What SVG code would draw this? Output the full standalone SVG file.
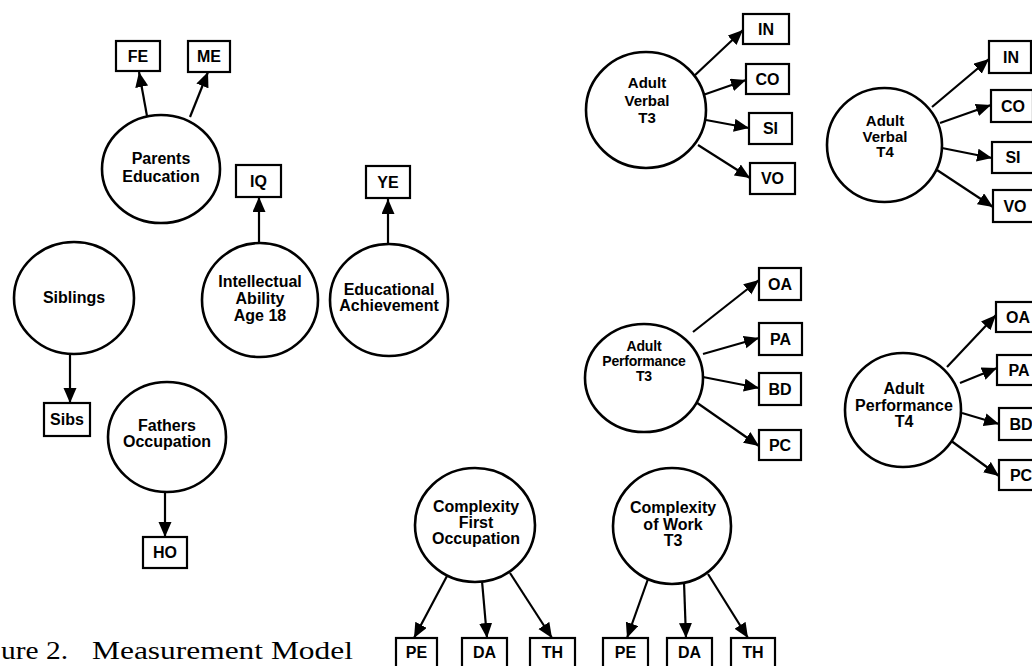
<svg xmlns="http://www.w3.org/2000/svg" width="1032" height="666" viewBox="0 0 1032 666">
<style>
.c ellipse{fill:#fff;stroke:#000;stroke-width:2.6}
.b rect{fill:#fff;stroke:#000;stroke-width:2.2}
text{font-family:"Liberation Sans",Arial,sans-serif;font-weight:bold;text-anchor:middle;font-size:16px;fill:#000}
.s15 text{font-size:15px}
.tight text{font-size:14px;letter-spacing:-0.2px}
#connectors line{stroke:#000;stroke-width:2.2;marker-end:url(#ah)}
.cap{font-family:"Liberation Serif","Times New Roman",serif;font-weight:normal;text-anchor:start;font-size:25px}
</style>
<defs>
<marker id="ah" markerUnits="userSpaceOnUse" markerWidth="16" markerHeight="14" refX="15" refY="6.5" orient="auto">
<path d="M0,0 L15,6.5 L0,13 z" fill="#000"/>
</marker>
</defs>
<rect width="1032" height="666" fill="#fff"/>

<g id="connectors">
<line x1="147" y1="116" x2="139" y2="72"/>
<line x1="190" y1="117" x2="208" y2="72"/>
<line x1="259" y1="244" x2="259" y2="197"/>
<line x1="388" y1="244" x2="388" y2="199"/>
<line x1="70" y1="354" x2="70" y2="403"/>
<line x1="165" y1="492" x2="165" y2="537"/>
<line x1="693" y1="77" x2="743" y2="30"/>
<line x1="703" y1="95" x2="746" y2="80"/>
<line x1="706" y1="120" x2="749" y2="128"/>
<line x1="698" y1="145" x2="750" y2="178"/>
<line x1="932" y1="107" x2="989" y2="59"/>
<line x1="940" y1="123" x2="991" y2="105"/>
<line x1="942" y1="148" x2="992" y2="158"/>
<line x1="937" y1="170" x2="993" y2="207"/>
<line x1="693" y1="332" x2="759" y2="280"/>
<line x1="703" y1="354" x2="759" y2="338"/>
<line x1="703" y1="377" x2="759" y2="388"/>
<line x1="693" y1="400" x2="759" y2="446"/>
<line x1="947" y1="367" x2="996" y2="315"/>
<line x1="960" y1="383" x2="997" y2="368"/>
<line x1="962" y1="413" x2="999" y2="424"/>
<line x1="950" y1="440" x2="999" y2="476"/>
<line x1="447" y1="576" x2="414" y2="638"/>
<line x1="482" y1="581" x2="487" y2="638"/>
<line x1="510" y1="573" x2="552" y2="638"/>
<line x1="648" y1="579" x2="627" y2="638"/>
<line x1="684" y1="582" x2="686" y2="638"/>
<line x1="708" y1="574" x2="748" y2="638"/>
</g>

<g id="parents-education" class="c"><ellipse cx="161" cy="169" rx="59" ry="54"/><text x="161" y="164">Parents</text><text x="161" y="182">Education</text></g>
<g id="siblings" class="c"><ellipse cx="74" cy="298" rx="60" ry="56"/><text x="74" y="303">Siblings</text></g>
<g id="intellectual-ability" class="c"><ellipse cx="260" cy="300" rx="58" ry="57"/><text x="260" y="287">Intellectual</text><text x="260" y="304">Ability</text><text x="260" y="321">Age 18</text></g>
<g id="educational-achievement" class="c"><ellipse cx="389" cy="300" rx="59" ry="56"/><text x="389" y="295">Educational</text><text x="389" y="311">Achievement</text></g>
<g id="fathers-occupation" class="c"><ellipse cx="167" cy="437" rx="59" ry="55"/><text x="167" y="431">Fathers</text><text x="167" y="447">Occupation</text></g>
<g id="adult-verbal-t3" class="c s15"><ellipse cx="646" cy="110" rx="60" ry="58"/><text x="647" y="88">Adult</text><text x="647" y="106">Verbal</text><text x="647" y="123">T3</text></g>
<g id="adult-verbal-t4" class="c s15"><ellipse cx="884.5" cy="145" rx="57.5" ry="57"/><text x="885" y="126">Adult</text><text x="885" y="142">Verbal</text><text x="885" y="157">T4</text></g>
<g id="adult-performance-t3" class="c tight"><ellipse cx="644" cy="378" rx="59" ry="54"/><text x="644" y="351">Adult</text><text x="644" y="366">Performance</text><text x="644" y="381">T3</text></g>
<g id="adult-performance-t4" class="c"><ellipse cx="903" cy="410" rx="58" ry="57"/><text x="904" y="394">Adult</text><text x="904" y="411">Performance</text><text x="904" y="427">T4</text></g>
<g id="complexity-first-occupation" class="c"><ellipse cx="475" cy="525" rx="60" ry="57"/><text x="476" y="512">Complexity</text><text x="476" y="528">First</text><text x="476" y="544">Occupation</text></g>
<g id="complexity-work-t3" class="c"><ellipse cx="672" cy="526" rx="59" ry="58"/><text x="673" y="513">Complexity</text><text x="673" y="530">of Work</text><text x="673" y="546">T3</text></g>

<g id="FE" class="b"><rect x="116" y="41" width="44" height="30"/><text x="138" y="62">FE</text></g>
<g id="ME" class="b"><rect x="188" y="41" width="42" height="31"/><text x="209" y="62">ME</text></g>
<g id="IQ" class="b"><rect x="236" y="165" width="45" height="32"/><text x="258.5" y="187">IQ</text></g>
<g id="YE" class="b"><rect x="366" y="166" width="44" height="32"/><text x="388" y="188">YE</text></g>
<g id="Sibs" class="b"><rect x="44" y="403" width="46" height="33"/><text x="67" y="425">Sibs</text></g>
<g id="HO" class="b"><rect x="143" y="537" width="44" height="31"/><text x="165" y="558">HO</text></g>

<g id="IN-T3" class="b"><rect x="743" y="14" width="46" height="30"/><text x="766" y="35">IN</text></g>
<g id="CO-T3" class="b"><rect x="746" y="64" width="43" height="30"/><text x="767.5" y="85">CO</text></g>
<g id="SI-T3" class="b"><rect x="749" y="113" width="43" height="31"/><text x="770.5" y="134">SI</text></g>
<g id="VO-T3" class="b"><rect x="750" y="163" width="45" height="31"/><text x="772.5" y="184">VO</text></g>

<g id="IN-T4" class="b"><rect x="989" y="41" width="42" height="32"/><text x="1011" y="63">IN</text></g>
<g id="CO-T4" class="b"><rect x="991" y="90" width="42" height="32"/><text x="1013" y="112">CO</text></g>
<g id="SI-T4" class="b"><rect x="992" y="142" width="42" height="31"/><text x="1013" y="163">SI</text></g>
<g id="VO-T4" class="b"><rect x="993" y="190" width="42" height="32"/><text x="1015" y="212">VO</text></g>

<g id="OA-T3" class="b"><rect x="759" y="268" width="42" height="32"/><text x="780" y="290">OA</text></g>
<g id="PA-T3" class="b"><rect x="759" y="323" width="43" height="32"/><text x="780.5" y="345">PA</text></g>
<g id="BD-T3" class="b"><rect x="759" y="373" width="42" height="32"/><text x="780" y="395">BD</text></g>
<g id="PC-T3" class="b"><rect x="759" y="430" width="42" height="30"/><text x="780" y="451">PC</text></g>

<g id="OA-T4" class="b"><rect x="996" y="302" width="44" height="30"/><text x="1018" y="323">OA</text></g>
<g id="PA-T4" class="b"><rect x="997" y="355" width="44" height="30"/><text x="1019" y="376">PA</text></g>
<g id="BD-T4" class="b"><rect x="999" y="408" width="44" height="32"/><text x="1021" y="430">BD</text></g>
<g id="PC-T4" class="b"><rect x="999" y="460" width="44" height="30"/><text x="1021" y="481">PC</text></g>

<g id="PE-1" class="b"><rect x="396" y="638" width="41" height="34"/><text x="416.5" y="658">PE</text></g>
<g id="DA-1" class="b"><rect x="462" y="638" width="45" height="34"/><text x="484.5" y="658">DA</text></g>
<g id="TH-1" class="b"><rect x="530" y="638" width="45" height="34"/><text x="552.5" y="658">TH</text></g>
<g id="PE-2" class="b"><rect x="603" y="638" width="45" height="34"/><text x="625.5" y="658">PE</text></g>
<g id="DA-2" class="b"><rect x="667" y="638" width="45" height="34"/><text x="689.5" y="658">DA</text></g>
<g id="TH-2" class="b"><rect x="731" y="638" width="44" height="34"/><text x="753" y="658">TH</text></g>

<g id="caption">
<text class="cap" x="1" y="659" textLength="67" lengthAdjust="spacingAndGlyphs">ure 2.</text>
<text class="cap" x="92" y="659" textLength="261" lengthAdjust="spacingAndGlyphs">Measurement Model</text>
</g>
</svg>
